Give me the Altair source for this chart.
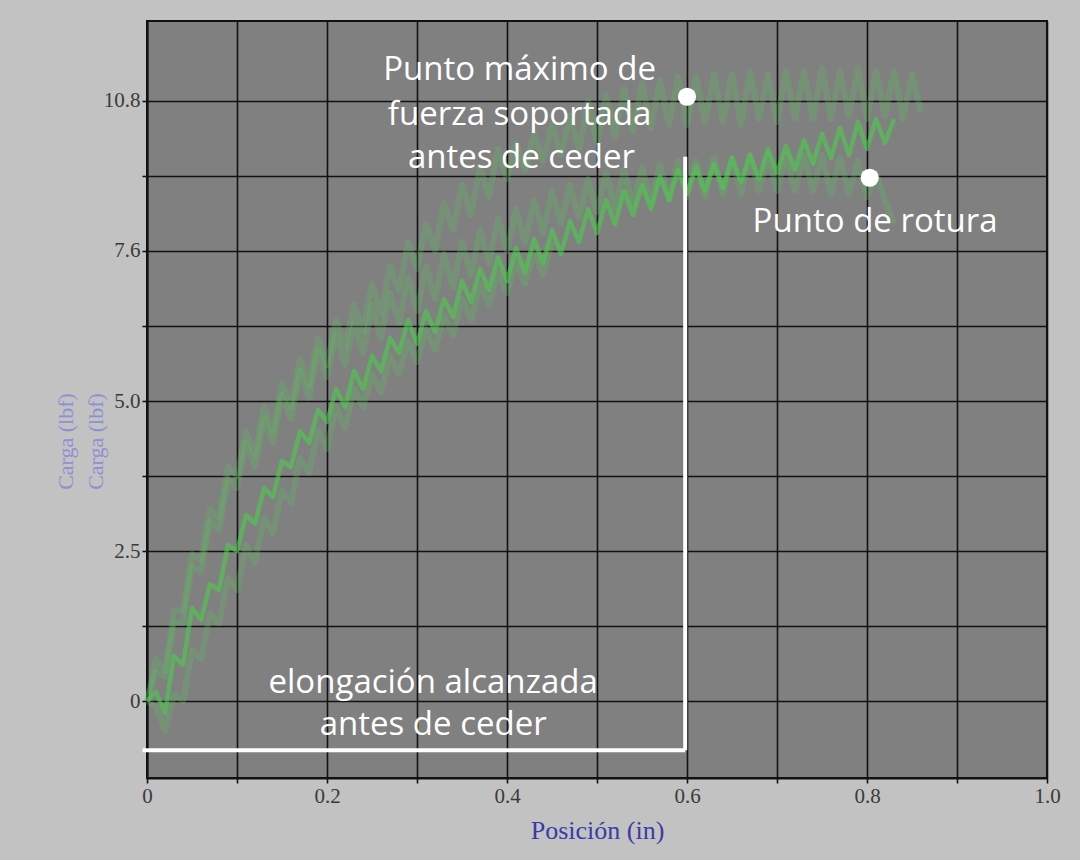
import altair as alt
import pandas as pd

# Sample positions along the crosshead travel (in)
posicion = [
    0.00, 0.01, 0.02, 0.03, 0.04, 0.05, 0.06, 0.07, 0.08, 0.09,
    0.10, 0.11, 0.12, 0.13, 0.14, 0.15, 0.16, 0.17, 0.18, 0.19,
    0.20, 0.21, 0.22, 0.23, 0.24, 0.25, 0.26, 0.27, 0.28, 0.29,
    0.30, 0.31, 0.32, 0.33, 0.34, 0.35, 0.36, 0.37, 0.38, 0.39,
    0.40, 0.41, 0.42, 0.43, 0.44, 0.45, 0.46, 0.47, 0.48, 0.49,
    0.50, 0.51, 0.52, 0.53, 0.54, 0.55, 0.56, 0.57, 0.58, 0.59,
    0.60, 0.61, 0.62, 0.63, 0.64, 0.65, 0.66, 0.67, 0.68, 0.69,
    0.70, 0.71, 0.72, 0.73, 0.74, 0.75, 0.76, 0.77, 0.78, 0.79,
    0.80, 0.81, 0.82, 0.83, 0.84, 0.85, 0.86,
]

# Load readings (lbf) of each run
carga_a = [
    0.0, 0.7, 0.5, 1.5, 1.5, 2.45, 2.35, 3.2, 3.05, 3.9,
    3.75, 4.5, 4.1, 4.9, 4.5, 5.3, 4.9, 5.7, 5.25, 6.05,
    5.6, 6.35, 5.9, 6.6, 6.15, 6.95, 6.45, 7.25, 6.85, 7.65,
    7.2, 7.95, 7.5, 8.3, 7.85, 8.6, 8.1, 8.9, 8.4, 9.2,
    8.7, 9.3, 8.85, 9.45, 9.0, 9.6, 9.1, 9.75, 9.2, 10.0,
    9.3, 10.1, 9.4, 10.2, 9.5, 10.3, 9.55, 10.35, 9.6, 10.4,
    9.6, 10.4, 9.65, 10.45, 9.65, 10.45, 9.6, 10.5, 9.7, 10.45,
    9.65, 10.5, 9.7, 10.5, 9.7, 10.55, 9.7, 10.5, 9.75, 10.55,
    9.7, 10.5, 9.75, 10.5, 9.7, 10.45, 9.8,
]
carga_b = [
    0.0, 0.5, 0.4, 1.3, 1.3, 2.25, 2.15, 3.0, 2.85, 3.7,
    3.55, 4.3, 3.9, 4.7, 4.3, 5.1, 4.7, 5.5, 5.05, 5.85,
    5.4, 6.1, 5.6, 6.3, 5.8, 6.6, 6.05, 6.8, 6.3, 7.05,
    6.5, 7.25, 6.7, 7.45, 6.9, 7.65, 7.1, 7.85, 7.3, 8.05,
    7.5, 8.2, 7.65, 8.35, 7.8, 8.5, 7.95, 8.6, 8.05, 8.7,
    8.15, 8.8, 8.2, 8.85, 8.25, 8.9, 8.3, 8.95, 8.35, 9.0,
    8.4, 9.0, 8.4, 9.05, 8.45, 9.05, 8.45, 9.1, 8.5, 9.1,
    8.5, 9.1, 8.5, 9.1, 8.5, 9.1, 8.45, 9.05, 8.45, 9.0,
    8.4, 8.8, 8.35, 7.95,
]
carga_c = [
    0.0, 0.15, -0.2, 0.75, 0.6, 1.55, 1.35, 1.95, 1.85, 2.6,
    2.5, 3.1, 2.95, 3.55, 3.4, 4.0, 3.9, 4.5, 4.3, 4.85,
    4.65, 5.2, 4.9, 5.5, 5.2, 5.75, 5.5, 6.05, 5.8, 6.35,
    5.95, 6.5, 6.15, 6.7, 6.4, 7.0, 6.65, 7.2, 6.85, 7.4,
    7.0, 7.55, 7.15, 7.7, 7.3, 7.85, 7.45, 8.0, 7.65, 8.2,
    7.8, 8.35, 7.95, 8.5, 8.1, 8.6, 8.2, 8.75, 8.35, 8.85,
    8.45, 8.9, 8.5, 8.95, 8.55, 9.05, 8.65, 9.1, 8.7, 9.2,
    8.8, 9.25, 8.85, 9.35, 8.95, 9.45, 9.05, 9.55, 9.1, 9.65,
    9.2, 9.7, 9.3, 9.7,
]
carga_d = [
    0.0, -0.1, -0.5, 0.1, 0.0, 0.85, 0.7, 1.45, 1.3, 2.05,
    1.85, 2.6, 2.3, 3.05, 2.8, 3.5, 3.3, 4.05, 3.8, 4.5,
    4.2, 4.9, 4.55, 5.2, 4.9, 5.45, 5.15, 5.75, 5.45, 6.0,
    5.65, 6.2, 5.85, 6.4, 6.1, 6.7, 6.35, 6.95, 6.6, 7.15,
    6.8, 7.35, 6.95, 7.5, 7.1, 7.65,
]

rows = []
for serie, valores in (("a", carga_a), ("b", carga_b), ("d", carga_d), ("c", carga_c)):
    for orden, (p, c) in enumerate(zip(posicion, valores)):
        rows.append({"serie": serie, "orden": orden, "pos": p, "carga": c})
curvas = pd.DataFrame(rows)

# Annotation contents
textos = ["Punto máximo de", "fuerza soportada", "antes de ceder",
          "Punto de rotura", "elongación alcanzada", "antes de ceder"]
textos_x = [0.414, 0.414, 0.416, 0.809, 0.318, 0.318]
textos_y = [10.52, 9.77, 9.05, 7.98, 0.3, -0.4]

puntos_x = [0.600, 0.803]
puntos_y = [10.07, 8.72]

# Elongation bracket: horizontal then vertical segment
tramos_x = [-0.005, 0.598]
tramos_x2 = [0.598, 0.598]
tramos_y = [-0.82, -0.82]
tramos_y2 = [-0.82, 9.07]

x_scale = alt.Scale(domain=[0, 1.0], nice=False, zero=False)
y_scale = alt.Scale(domain=[-1.283, 11.333], nice=False, zero=False)

x_ticks = [0, 0.1, 0.2, 0.3, 0.4, 0.5, 0.6, 0.7, 0.8, 0.9, 1.0]
y_ticks = [0, 1.25, 2.5, 3.75, 5, 6.25, 7.5, 8.75, 10]

x_enc = alt.X(
    "pos:Q", scale=x_scale,
    axis=alt.Axis(
        values=x_ticks,
        labelExpr="round(datum.value*10) % 2 == 0 ? (datum.value == 0 ? '0' : format(datum.value, '.1f')) : ''",
        title="Posición (in)", titleColor="#3a3aaa", titleFontSize=26,
        titleFont="Liberation Serif", titleFontWeight="normal",
        titleY=52, titleBaseline="middle",
    ),
)
y_enc = alt.Y(
    "carga:Q", scale=y_scale,
    axis=alt.Axis(
        values=y_ticks,
        labelExpr="datum.value == 0 ? '0' : datum.value == 2.5 ? '2.5' : datum.value == 5 ? '5.0' : datum.value == 7.5 ? '7.6' : datum.value == 10 ? '10.8' : ''",
        title=["Carga (lbf)", "Carga (lbf)"], titleColor="#8d90d4", titleFontSize=22,
        titleFont="Liberation Serif", titleFontWeight="normal",
        titleLineHeight=30, titleX=-82, titleY=420, titleBaseline="middle",
    ),
)

base = alt.Chart(curvas).encode(x=x_enc, y=y_enc, order="orden:Q")

faint = base.transform_filter("datum.serie != 'c'").mark_line(
    color="#5fc35f", opacity=0.28, strokeWidth=6, strokeJoin="round"
).encode(detail="serie:N")
bright = base.transform_filter("datum.serie == 'c'").mark_line(
    color="#4ccb4c", opacity=0.62, strokeWidth=4.5, strokeJoin="round"
)

tramos = alt.Chart(pd.DataFrame({"x": tramos_x, "x2": tramos_x2, "y": tramos_y, "y2": tramos_y2})).mark_rule(
    color="white", strokeWidth=4
).encode(
    x=alt.X("x:Q", scale=x_scale), x2="x2:Q",
    y=alt.Y("y:Q", scale=y_scale), y2="y2:Q",
)

puntos = alt.Chart(pd.DataFrame({"x": puntos_x, "y": puntos_y})).mark_circle(
    color="white", opacity=1, size=330
).encode(x=alt.X("x:Q", scale=x_scale), y=alt.Y("y:Q", scale=y_scale))

etiquetas = alt.Chart(pd.DataFrame({"t": textos, "x": textos_x, "y": textos_y})).mark_text(
    color="white", font="Open Sans", fontSize=33, align="center", baseline="middle"
).encode(x=alt.X("x:Q", scale=x_scale), y=alt.Y("y:Q", scale=y_scale), text="t:N")

chart = alt.layer(faint, bright, tramos, puntos, etiquetas).properties(
    width=900, height=757,
    background="#c2c2c2",
    padding={"left": 147, "top": 21, "right": 33, "bottom": 82},
    autosize="none",
).configure_view(
    fill="#808080", stroke="#111111", strokeWidth=2
).configure_axis(
    grid=True, gridColor="#111111", gridWidth=1.6, gridOpacity=1,
    domainColor="#111111", domainWidth=2,
    tickColor="#111111", tickSize=5, tickWidth=1.6,
    labelFont="Liberation Serif", labelFontSize=21, labelColor="#3a3a3a",
    labelPadding=2, labelFlush=False, labelOverlap=False,
)

chart.save("out.html", embed_options={"renderer": "svg", "actions": False})
